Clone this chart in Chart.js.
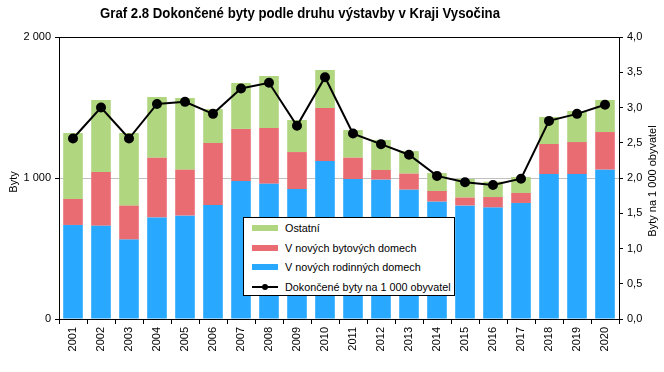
<!DOCTYPE html>
<html>
<head>
<meta charset="utf-8">
<script src="https://cdn.jsdelivr.net/npm/chart.js@4"></script>
<style>
  body { margin: 0; background: #fff; }
  #wrap { position: relative; width: 664px; height: 372px; }
  #legenda {
    position: absolute; left: 243px; top: 217px; width: 210px; height: 77px;
    background: #fff; border: 1px solid #000;
    font: 10.8px 'Liberation Sans', Arial, sans-serif; color: #000;
  }
  .item { position: absolute; left: 8px; height: 14px; line-height: 14px; }
  .sw { position: absolute; left: 0; top: 4px; width: 26px; height: 6px; }
  .txt { position: absolute; left: 33px; top: 0; white-space: nowrap; }
  .ln { position: absolute; left: 0; top: 6px; width: 26px; height: 2px; background: #000; }
  .dot { position: absolute; left: 10px; top: 4px; width: 6px; height: 6px; border-radius: 50%; background: #000; }
</style>
</head>
<body>
<div id="wrap">
  <canvas id="graf" width="664" height="372"></canvas>
  <div id="legenda">
    <div class="item" style="top:3px"><div class="sw" style="background:#b0d680"></div><span class="txt">Ostatní</span></div>
    <div class="item" style="top:23px"><div class="sw" style="background:#e96c73"></div><span class="txt">V nových bytových domech</span></div>
    <div class="item" style="top:42px"><div class="sw" style="background:#29a8ff"></div><span class="txt">V nových rodinných domech</span></div>
    <div class="item" style="top:62px"><div class="ln"></div><div class="dot"></div><span class="txt">Dokončené byty na 1 000 obyvatel</span></div>
  </div>
</div>
<script>
// data
const roky = ['2001','2002','2003','2004','2005','2006','2007','2008','2009','2010',
              '2011','2012','2013','2014','2015','2016','2017','2018','2019','2020'];
const rodinne = [667, 662, 563, 719, 733, 809, 979, 960, 922, 1121, 993, 988, 917, 832, 804, 790, 823, 1028, 1028, 1059];
const bytove  = [184, 381, 241, 425, 326, 439, 369, 395, 262, 375, 151, 69, 114, 76, 57, 75, 71, 213, 227, 267];
const ostatni = [468, 510, 515, 430, 508, 241, 326, 368, 227, 270, 196, 213, 160, 127, 132, 109, 113, 192, 220, 227];
const naTisic = [2.56, 3.0, 2.56, 3.05, 3.08, 2.91, 3.27, 3.35, 2.74, 3.43, 2.63, 2.48, 2.33, 2.03, 1.94, 1.90, 1.99, 2.81, 2.91, 3.04];
const levyTicks = [0, 1000, 2000];

const pismo = "'Liberation Sans', Arial, sans-serif";

// titulky a rámeček kreslíme sami
const popisky = {
    id: 'popisky',
    afterDraw(chart) {
        const c = chart.ctx;
        const a = chart.chartArea;
        c.save();
        c.strokeStyle = '#000';
        c.lineWidth = 1;
        c.beginPath();
        c.moveTo(a.left, a.top + 0.5);
        c.lineTo(a.right, a.top + 0.5);
        c.stroke();

        // nadpis je v originále zúžený písmem, tak ho stáhneme na šířku ~400 px
        const nadpis = 'Graf 2.8 Dokončené byty podle druhu výstavby v Kraji Vysočina';
        c.fillStyle = '#000';
        c.textAlign = 'center';
        c.textBaseline = 'middle';
        c.font = 'bold 14px ' + pismo;
        const k = 400 / c.measureText(nadpis).width;
        c.save();
        c.translate(300, 14);
        c.scale(k, 1);
        c.fillText(nadpis, 0, 0);
        c.restore();

        c.font = '11px ' + pismo;
        c.translate(14, 182);
        c.rotate(-Math.PI / 2);
        c.fillText('Byty', 0, 0);
        c.restore();

        c.save();
        c.fillStyle = '#000';
        c.textAlign = 'center';
        c.textBaseline = 'middle';
        c.font = '11px ' + pismo;
        c.translate(653, 181);
        c.rotate(-Math.PI / 2);
        c.fillText('Byty na 1 000 obyvatel', 0, 0);
        c.restore();
    }
};

Chart.defaults.font.family = pismo;
Chart.defaults.font.size = 11;
Chart.defaults.color = '#000';

new Chart(document.getElementById('graf'), {
    data: {
        labels: roky,
        datasets: [
            { type: 'line', label: 'Dokončené byty na 1 000 obyvatel', data: naTisic, yAxisID: 'y1',
              borderColor: '#000', backgroundColor: '#000', borderWidth: 2, pointRadius: 4,
              pointBackgroundColor: '#000', tension: 0, order: 0 },
            { type: 'bar', label: 'V nových rodinných domech', data: rodinne, backgroundColor: '#29a8ff', order: 1 },
            { type: 'bar', label: 'V nových bytových domech', data: bytove, backgroundColor: '#e96c73', order: 1 },
            { type: 'bar', label: 'Ostatní', data: ostatni, backgroundColor: '#b0d680', order: 1 }
        ]
    },
    options: {
        responsive: false,
        animation: false,
        layout: { padding: { top: 37 } },
        datasets: { bar: { barPercentage: 0.7, categoryPercentage: 1.0 } },
        plugins: { legend: { display: false }, tooltip: { enabled: false } },
        scales: {
            x: {
                stacked: true,
                grid: { drawOnChartArea: false, drawTicks: true, tickLength: 5, color: '#000', offset: true },
                border: { color: '#000' },
                ticks: { minRotation: 90, maxRotation: 90, padding: 3 },
                afterFit(s) { s.height = 53; }
            },
            y: {
                stacked: true, min: 0, max: 2000,
                afterBuildTicks(s) { s.ticks = levyTicks.map(v => ({ value: v })); },
                ticks: { padding: 4, callback: v => v === 0 ? '0' : String(v).replace(/\B(?=(\d{3})+(?!\d))/g, ' ') },
                grid: { color: ctx => (ctx.tick && ctx.tick.value === 1000) ? '#c0c0c0' : '#000', tickColor: '#000', tickLength: 4 },
                border: { color: '#000' },
                afterFit(s) { s.width = 59; }
            },
            y1: {
                position: 'right', min: 0, max: 4,
                ticks: { stepSize: 0.5, padding: 4, callback: v => v.toFixed(1).replace('.', ',') },
                grid: { drawOnChartArea: false, color: '#000', tickLength: 4 },
                border: { color: '#000' },
                afterFit(s) { s.width = 45; }
            }
        }
    },
    plugins: [popisky]
});
</script>
</body>
</html>
